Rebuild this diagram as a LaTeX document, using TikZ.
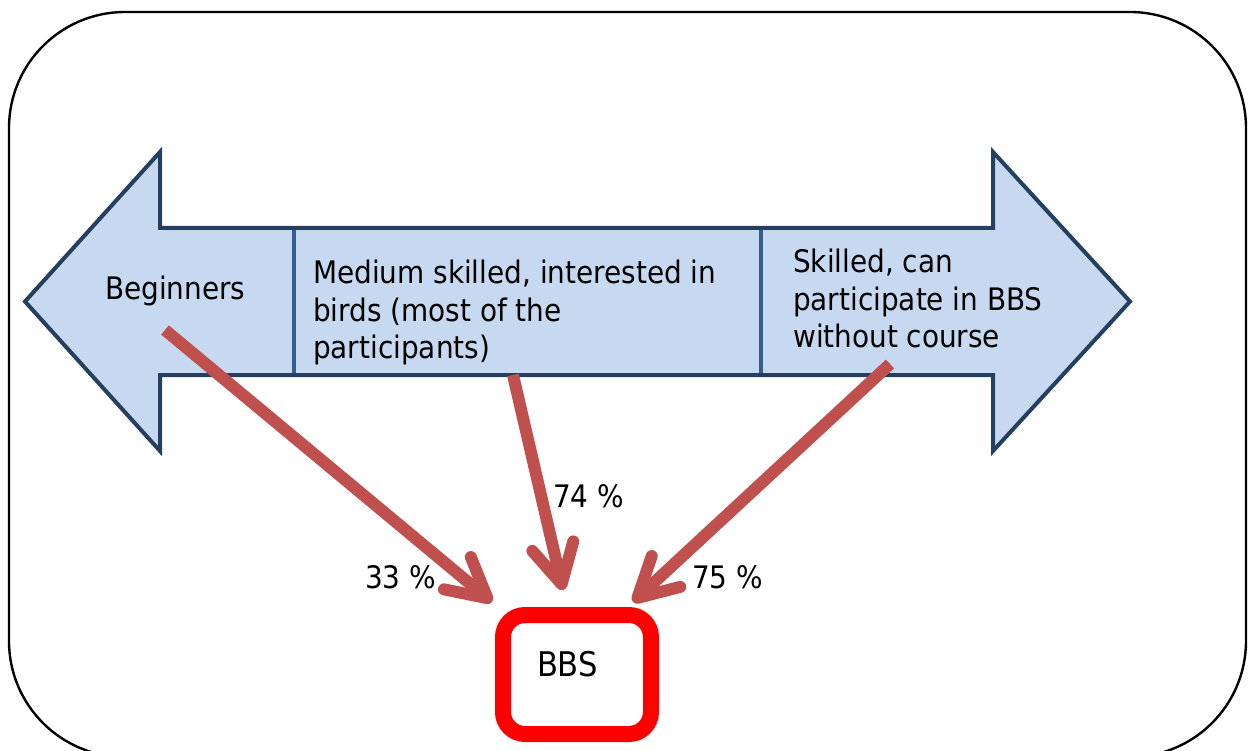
\documentclass[tikz,border=0pt]{standalone}
\usepackage{fontspec}
\setmainfont{DejaVu Sans Condensed}
\usetikzlibrary{arrows.meta}

\definecolor{arrowfill}{HTML}{C6D9F1}
\definecolor{arrowline}{HTML}{243F60}
\definecolor{divline}{HTML}{385D8A}
\definecolor{flow}{HTML}{C0504D}

\tikzset{
  frame/.style={draw=black, line width=2.4pt, rounded corners=116pt},
  bandtext/.style={inner sep=0pt, align=left, font=\fontsize{31}{37.5}\selectfont},
  pcttext/.style={inner sep=0pt, anchor=base west, font=\fontsize{31}{36}\selectfont},
  flowarrow/.style={draw=flow, line width=12pt,
    -{Straight Barb[length=39pt, width=42pt, round]}},
  target/.style={draw=red, line width=16pt, rounded corners=22pt,
    minimum width=148pt, minimum height=119pt,
    text width=80pt, align=left, text height=25pt, text depth=22pt,
    font=\fontsize{34}{40}\selectfont}
}

\begin{document}
\begin{tikzpicture}[x=1pt, y=-1pt]
  \useasboundingbox (0,0) rectangle (1248,751);

  % outer rounded frame (its lower edge runs past the page)
  \begin{scope}
    \clip (0,0) rectangle (1248,751);
    \draw[frame] (9,12) rectangle (1246,757);
  \end{scope}

  % double-headed scale arrow
  \path[fill=arrowfill]
    (25,301.5) -- (160,152) -- (160,228) -- (993,228) -- (993,152)
    -- (1130,301.5) -- (993,451) -- (993,375) -- (160,375) -- (160,451) -- cycle;
  \draw[divline, line width=4pt] (294,228) -- (294,375);
  \draw[divline, line width=4pt] (761,228) -- (761,375);
  \draw[arrowline, line width=4pt, line join=miter]
    (25,301.5) -- (160,152) -- (160,228) -- (993,228) -- (993,152)
    -- (1130,301.5) -- (993,451) -- (993,375) -- (160,375) -- (160,451) -- cycle;

  % section labels
  \node[bandtext, anchor=base west] (beg) at (105,300) {Beginners};
  \node[bandtext, anchor=north west] (med) at (313,260)
    {Medium skilled, interested in\\birds (most of the\\participants)};
  \node[bandtext, anchor=north west] (skl) at (793,249)
    {Skilled, can\\participate in BBS\\without course};

  % target box
  \node[target] (bbs) at (577,674.5) {BBS};

  % flow arrows with their shares
  \coordinate (s1) at (165,330);  \coordinate (t1) at (492,602);
  \coordinate (s2) at (513,375);  \coordinate (t2) at (563,590);
  \coordinate (s3) at (890,364);  \coordinate (t3) at (633,602);
  \draw[flowarrow] (s1) -- (t1);
  \draw[flowarrow] (s2) -- (t2);
  \draw[flowarrow] (s3) -- (t3);

  \node[pcttext] (p1) at (365,588) {33 \%};
  \node[pcttext] (p2) at (553,507) {74 \%};
  \node[pcttext] (p3) at (692,588) {75 \%};
\end{tikzpicture}
\end{document}
